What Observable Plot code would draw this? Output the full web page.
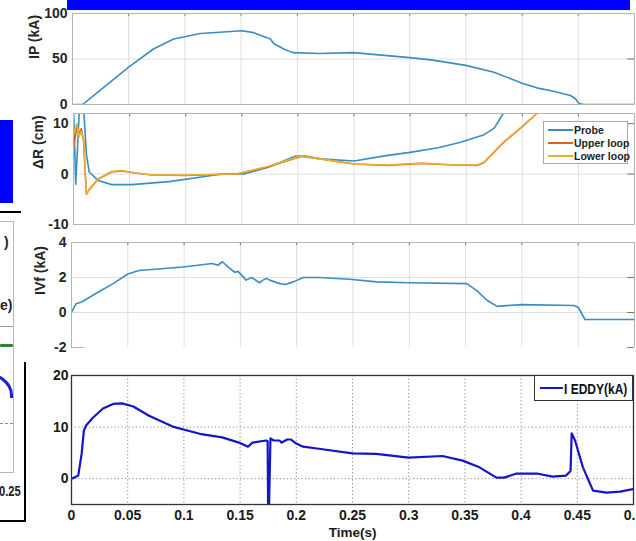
<!DOCTYPE html>
<html><head><meta charset="utf-8">
<script src="https://cdn.jsdelivr.net/npm/d3@7"></script>
<script src="https://cdn.jsdelivr.net/npm/@observablehq/plot@0.6"></script>
<style>
body{margin:0;background:#fff}
#c{position:relative;width:636px;height:541px;overflow:hidden;background:#fff}
#c svg{position:absolute;left:0;top:0}
.d{position:absolute}
.lg{position:absolute;background:#fff;font-family:"Liberation Sans",Arial,sans-serif;font-weight:bold;color:#222}
.row{position:absolute;left:0;display:flex;align-items:center;white-space:nowrap}
.sw{display:inline-block;flex:none}
.nt{display:inline-block;transform-origin:left center}
</style></head><body><div id="c"></div><script>
// ---------- data ----------
const timeTicks = [0,0.05,0.1,0.15,0.2,0.25,0.3,0.35,0.4,0.45,0.5];
const gridTimes = [0.05,0.1,0.15,0.2,0.25,0.3,0.35,0.4,0.45];

// Panel 1: plasma current IP (kA)
const tIP  = [0,0.009,0.022,0.05,0.072,0.09,0.114,0.151,0.161,0.176,0.179,0.188,0.196,0.22,0.25,0.30,0.319,0.35,0.375,0.39,0.40,0.413,0.428,0.443,0.4475,0.4505,0.455,0.5];
const ipKA = [0,0,13,41,61,72,78,81,79,72,67,61,57,56,57,51.5,49,43,35.5,28.2,23.4,18.3,14.6,9.9,6.3,1,0,0];
const ipTicks = [0,50,100];

// Panel 2: ΔR (cm)
const drSeries = ["Probe","Upper loop","Lower loop"];
const drColors = ["#3a8dc2","#d9622b","#e8b030"];
const tProbe = [0,0.002,0.0055,0.009,0.0115,0.014,0.022,0.034,0.052,0.085,0.114,0.132,0.152,0.173,0.197,0.206,0.22,0.25,0.28,0.30,0.325,0.345,0.366,0.375,0.383,0.39];
const probe  = [13,-2,14,13,4,0.4,-1.3,-2.1,-2.1,-1.5,-0.6,0,0,1.3,3.5,3.6,3.0,2.6,3.7,4.3,5.2,6.3,7.8,9.1,12,15];
const tLoop  = [0,0.003,0.005,0.007,0.009,0.0105,0.0115,0.014,0.022,0.034,0.043,0.055,0.07,0.1,0.145,0.173,0.203,0.22,0.25,0.28,0.31,0.34,0.36,0.366,0.383,0.398,0.413,0.425];
const upper  = [5,9.5,8,9,6.5,0,-4,-3.1,-1,0.4,0.6,0.2,-0.2,-0.3,0,1.4,3.5,3.0,2.0,1.7,2.1,1.8,1.7,2.3,6.2,9.0,12,15];
const lower  = [7.8,10,7.4,8.5,7,0.4,-4.1,-3,-0.9,0.5,0.7,0.2,-0.2,-0.2,0,1.5,3.6,3.0,2.0,1.8,2.2,1.8,1.8,2.4,6.3,9.1,12,15];
const drTicks = [-10,0,10];

// Panel 3: IVf (kA)
const tVf = [0,0.004,0.009,0.022,0.037,0.05,0.06,0.099,0.125,0.13,0.134,0.14,0.145,0.148,0.155,0.16,0.167,0.17,0.173,0.176,0.185,0.19,0.197,0.206,0.22,0.247,0.271,0.30,0.351,0.36,0.369,0.378,0.399,0.446,0.45,0.456,0.5];
const vf  = [0,0.5,0.6,1.1,1.65,2.2,2.4,2.6,2.8,2.7,2.9,2.55,2.3,2.35,1.85,2.0,1.7,1.85,1.95,1.85,1.65,1.6,1.75,2.0,2.0,1.9,1.75,1.7,1.65,1.25,0.7,0.35,0.45,0.4,0.3,-0.4,-0.4];
const vfTicks = [-2,0,2,4];

// Panel 4: I EDDY (kA)
const tEd  = [0,0.004,0.006,0.009,0.011,0.013,0.019,0.028,0.037,0.045,0.055,0.069,0.09,0.114,0.134,0.149,0.157,0.161,0.173,0.1745,0.175,0.1755,0.177,0.18,0.185,0.187,0.192,0.195,0.2,0.206,0.22,0.25,0.271,0.30,0.33,0.348,0.363,0.378,0.385,0.396,0.414,0.428,0.44,0.444,0.445,0.448,0.455,0.464,0.476,0.488,0.5];
const eddy = [0,0.4,0.6,4.8,9.3,10.3,11.8,13.6,14.5,14.6,14,12.2,10.1,8.7,8,7,6.2,7,7.4,7.3,-8,-8,7.8,7.4,7.4,7.0,7.6,7.6,6.8,6.2,5.8,4.9,4.8,4.1,4.4,3.5,2.2,0.2,0.2,1.0,1.0,0.4,0.6,1.5,8.8,7.4,2.2,-2.3,-2.7,-2.5,-2];
const eddyTicks = [0,10,20];
const eddyName = "I EDDY(kA)";
const eddyColor = "#1414c8";

// ---------- helpers ----------
const W = 636, H = 541;
const c = document.getElementById("c");
const zip = (t, v) => t.map((d, i) => ({t: d, v: v[i]}));
const matStyle = {fontFamily: "'Liberation Sans', Arial, sans-serif", fontSize: "14px", fontWeight: "bold", color: "#262626", background: "transparent", overflow: "visible"};
const narrowFont = "'Liberation Sans Narrow', 'Arial Narrow', 'Liberation Sans', sans-serif";
function add(svg){ c.appendChild(svg); }
function matPanel({top, bottom, left, right, domain, ticks, gridY, label, labelDx, series, frameMarks}){
  return Plot.plot({
    width: W, height: H,
    marginTop: top, marginBottom: H - bottom, marginLeft: left, marginRight: W - right,
    x: {domain: [0, 0.5], axis: null, label: null},
    y: {domain, label: null},
    style: matStyle,
    marks: [
      Plot.gridX(gridTimes, {stroke: "#dedede", strokeOpacity: 1}),
      Plot.gridY(gridY, {stroke: "#dedede", strokeOpacity: 1}),
      Plot.ruleX(gridTimes, {y1: domain[1], y2: domain[1] - (domain[1]-domain[0])*0.03, stroke: "#555", strokeWidth: 0.8}),
      Plot.ruleY(ticks, {x1: 0.5, x2: 0.494, stroke: "#555", strokeWidth: 0.8}),
      ...series.map(s => Plot.line(s.data, {x: "t", y: "v", stroke: s.color, strokeWidth: 1.6, clip: true})),
      ...frameMarks,
      Plot.axisY(ticks, {tickSize: 0, tickPadding: 5, tickFormat: d => `${d}`, label: null}),
      Plot.text([label], {text: d => d, frameAnchor: "left", rotate: -90, dx: labelDx, fontSize: 14, fontWeight: "bold"})
    ]
  });
}

// Panel 1
add(matPanel({top: 13, bottom: 104, left: 72, right: 634, domain: [0, 100], ticks: ipTicks, gridY: [50],
  label: "IP (kA)", labelDx: -38,
  series: [{data: zip(tIP, ipKA), color: drColors[0]}],
  frameMarks: [Plot.frame({stroke: "#b4b4b4"})]}));

// Panel 2
add(matPanel({top: 113, bottom: 224, left: 73, right: 634, domain: [-10, 12], ticks: drTicks, gridY: [0],
  label: "ΔR (cm)", labelDx: -35,
  series: [
    {data: zip(tProbe, probe), color: drColors[0]},
    {data: zip(tLoop, upper), color: drColors[1]},
    {data: zip(tLoop, lower), color: drColors[2]}
  ],
  frameMarks: [Plot.frame({stroke: "#b4b4b4"})]}));

// Panel 3
add(matPanel({top: 242, bottom: 347, left: 71, right: 634, domain: [-2, 4], ticks: vfTicks, gridY: [0, 2],
  label: "IVf (kA)", labelDx: -31,
  series: [{data: zip(tVf, vf), color: drColors[0]}],
  frameMarks: [
    Plot.ruleY([4], {stroke: "#b4b4b4"}),
    Plot.ruleX([0], {stroke: "#b4b4b4"}),
    Plot.ruleX([0.5], {stroke: "#b4b4b4"}),
    Plot.ruleY([-2], {x1: 0, x2: 0.012, stroke: "#b4b4b4"})
  ]}));

// Panel 4
add(Plot.plot({
  width: W, height: H,
  marginTop: 375, marginBottom: H - 504, marginLeft: 71, marginRight: 3,
  x: {domain: [0, 0.5], label: null},
  y: {domain: [-5, 20], label: null},
  style: {...matStyle, fontFamily: narrowFont, fontSize: "14px", color: "#1a1a1a"},
  marks: [
    Plot.gridX(gridTimes, {stroke: "#8a8a8a", strokeOpacity: 1, strokeDasharray: "1.2,2.4"}),
    Plot.gridY([0, 10], {stroke: "#8a8a8a", strokeOpacity: 1, strokeDasharray: "1.2,2.4"}),
    Plot.line(zip(tEd, eddy), {x: "t", y: "v", stroke: eddyColor, strokeWidth: 2.2, clip: true}),
    Plot.frame({stroke: "#333", strokeWidth: 1.3}),
    Plot.axisY(eddyTicks, {tickSize: 0, tickPadding: 3, tickFormat: d => `${d}`, label: null}),
    Plot.axisX(timeTicks, {tickSize: 0, tickPadding: 6, tickFormat: d => `${d}`, label: null}),
    Plot.text(["Time(s)"], {text: d => d, frameAnchor: "bottom", dy: 32, fontSize: 13.5, fontWeight: "bold"})
  ]
}));

// ---------- legends ----------
{
  const lg = document.createElement("div");
  lg.className = "lg";
  Object.assign(lg.style, {left: "543px", top: "121px", width: "83px", height: "41px", border: "1px solid #a8a8a8", fontSize: "10.5px"});
  drSeries.forEach((name, i) => {
    const r = document.createElement("div");
    r.className = "row";
    Object.assign(r.style, {top: (1 + i * 13) + "px", height: "13px"});
    const sw = document.createElement("span");
    sw.className = "sw";
    Object.assign(sw.style, {width: "25px", height: "2px", background: drColors[i], marginLeft: "4px", marginRight: "1px"});
    const tx = document.createElement("span");
    tx.textContent = name;
    r.appendChild(sw); r.appendChild(tx);
    lg.appendChild(r);
  });
  c.appendChild(lg);
}
{
  const lg = document.createElement("div");
  lg.className = "lg";
  Object.assign(lg.style, {left: "534px", top: "375px", width: "97px", height: "24px", border: "1px solid #333", fontSize: "15px", color: "#111"});
  const r = document.createElement("div");
  r.className = "row";
  Object.assign(r.style, {top: "0px", height: "24px"});
  const sw = document.createElement("span");
  sw.className = "sw";
  Object.assign(sw.style, {width: "23px", height: "2px", background: eddyColor, marginLeft: "5px", marginRight: "1px"});
  const tx = document.createElement("span");
  tx.className = "nt";
  tx.style.transform = "scaleX(0.8)";
  tx.textContent = eddyName;
  r.appendChild(sw); r.appendChild(tx);
  lg.appendChild(r);
  c.appendChild(lg);
}

// ---------- cropped neighbouring-figure fragments (decoration) ----------
function deco(style, text){
  const d = document.createElement("div");
  d.className = "d";
  Object.assign(d.style, style);
  if (text) d.textContent = text;
  c.appendChild(d);
}
deco({left: "67px", top: "0px", width: "563px", height: "10px", background: "#0000ff"});
deco({left: "0px", top: "120px", width: "13px", height: "83px", background: "#0000ff"});
deco({left: "0px", top: "211px", width: "21px", height: "2px", background: "#000"});
deco({left: "-4px", top: "221px", width: "16px", height: "250px", border: "1px solid #b8b8b8"});
deco({left: "0px", top: "326px", width: "13px", height: "1px", background: "#999"});
deco({left: "0px", top: "344px", width: "13px", height: "3px", background: "#2a8a2a", borderRadius: "1px"});
deco({left: "-22px", top: "371px", width: "32px", height: "24px", borderTop: "3px solid #2020c8", borderRight: "3px solid #2020c8", borderTopRightRadius: "32px 24px"});
deco({left: "0px", top: "423px", width: "13px", height: "0px", borderTop: "1px dashed #888"});
deco({left: "24px", top: "362px", width: "2px", height: "160px", background: "#000"});
deco({left: "0px", top: "520px", width: "26px", height: "2px", background: "#000"});
deco({left: "4px", top: "234px", fontFamily: "'Liberation Sans', Arial, sans-serif", fontSize: "14px", fontWeight: "bold", color: "#222"}, ")");
deco({left: "0px", top: "297px", fontFamily: "'Liberation Sans', Arial, sans-serif", fontSize: "14px", fontWeight: "bold", color: "#222"}, "e)");
deco({left: "-1px", top: "483px", fontFamily: "'Liberation Sans', Arial, sans-serif", fontSize: "14px", fontWeight: "bold", color: "#222", transform: "scaleX(0.8)", transformOrigin: "left center"}, "0.25");
</script></body></html>
